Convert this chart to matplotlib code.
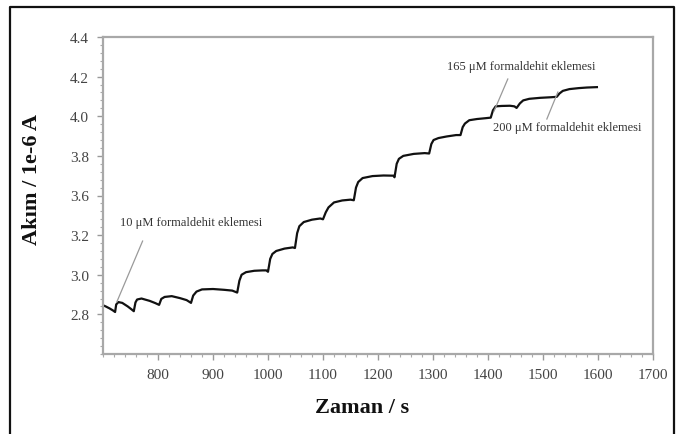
import numpy as np
import matplotlib
matplotlib.use("Agg")
import matplotlib.pyplot as plt
from matplotlib.ticker import MultipleLocator, FixedLocator

plt.rcParams.update({"font.family": "Liberation Serif"})

# Chronoamperometric trace (time in s, current in 1e-6 A)
time_s = [700, 705, 712, 718, 722,
          724, 728, 735, 745, 752, 756,
          759, 762, 770, 785, 795, 802,
          806, 812, 825, 840, 852, 860,
          864, 870, 880, 900, 920, 935, 944,
          948, 952, 960, 975, 990, 997, 1000,
          1004, 1008, 1015, 1030, 1045, 1049,
          1053, 1057, 1065, 1080, 1095, 1100,
          1105, 1110, 1120, 1135, 1150, 1156,
          1160, 1164, 1172, 1190, 1210, 1228, 1230,
          1234, 1238, 1246, 1265, 1285, 1293,
          1297, 1301, 1310, 1325, 1342, 1350,
          1354, 1358, 1366, 1380, 1395, 1405,
          1409, 1414, 1425, 1440, 1448, 1452,
          1458, 1464, 1475, 1495, 1515, 1525,
          1530, 1536, 1548, 1565, 1580, 1598]
current = [3.046, 3.040, 3.030, 3.020, 3.012,
           3.050, 3.062, 3.058, 3.040, 3.025, 3.016,
           3.060, 3.075, 3.080, 3.068, 3.057, 3.048,
           3.078, 3.088, 3.092, 3.082, 3.072, 3.058,
           3.095, 3.115, 3.126, 3.128, 3.124, 3.120, 3.110,
           3.170, 3.200, 3.213, 3.220, 3.222, 3.222, 3.215,
           3.280, 3.305, 3.320, 3.332, 3.338, 3.335,
           3.410, 3.445, 3.466, 3.478, 3.484, 3.480,
           3.515, 3.540, 3.565, 3.575, 3.579, 3.576,
           3.640, 3.668, 3.688, 3.698, 3.701, 3.700, 3.692,
           3.760, 3.785, 3.800, 3.810, 3.814, 3.812,
           3.860, 3.880, 3.890, 3.898, 3.905, 3.905,
           3.945, 3.963, 3.980, 3.986, 3.990, 3.993,
           4.030, 4.050, 4.052, 4.053, 4.050, 4.042,
           4.065, 4.080, 4.088, 4.093, 4.096, 4.098,
           4.115, 4.128, 4.137, 4.142, 4.145, 4.147]

# tick labels exactly as printed on the original (3.4 is missing there)
ytick_pos = [3.0, 3.2, 3.4, 3.6, 3.8, 4.0, 4.2, 4.4]
ytick_lab = ["2.8", "3.0", "3.2", "3.6", "3.8", "4.0", "4.2", "4.4"]
xtick_pos = [800, 900, 1000, 1100, 1200, 1300, 1400, 1500, 1600, 1700]

# annotations: text, text anchor (t, v), arrow tail and head
notes = [("10 \u03bcM formaldehit eklemesi", (731, 3.467), (772, 3.370), (725, 3.062)),
         ("165 \u03bcM formaldehit eklemesi", (1325, 4.255), (1436, 4.188), (1411, 4.026)),
         ("200 \u03bcM formaldehit eklemesi", (1409, 3.947), (1507, 3.986), (1527, 4.122))]

fig = plt.figure(figsize=(6.82, 4.35), dpi=100)
ax = fig.add_axes([103/682, 1 - 355/435, 550/682, 317/435])

ax.plot(time_s, current, color="#111", linewidth=1.6)

for txt, (tx, ty), (x0, y0), (x1, y1) in notes:
    ax.plot([x0, x1], [y0, y1], color="#9a9a9a", linewidth=0.9)
    ax.text(tx, ty, txt, ha="left", va="center", fontsize=9, color="#333")

ax.set_xlim(700, 1700)
ax.set_ylim(2.8, 4.4)
ax.xaxis.set_major_locator(FixedLocator(xtick_pos))
ax.xaxis.set_minor_locator(MultipleLocator(20))
ax.yaxis.set_major_locator(FixedLocator(ytick_pos))
ax.set_yticklabels(ytick_lab)
ax.yaxis.set_minor_locator(MultipleLocator(0.04))

for sp in ax.spines.values():
    sp.set_color("#a8a8a8")
    sp.set_linewidth(1.6)
ax.tick_params(which="major", direction="out", length=4, width=1.0,
               color="#999", labelsize=11, labelcolor="#444", pad=6)
ax.tick_params(which="minor", direction="out", length=2.5, width=0.8, color="#aaa")

fig.text(362/682, 1 - 408/435, "Zaman / s", ha="center", va="center",
         fontsize=16, weight="bold", color="#111")
fig.text(32/682, 1 - 180/435, "Ak\u0131m / 1e-6 A", ha="center", va="center",
         rotation=90, fontsize=16, weight="bold", color="#111")

# outer frame around the figure (bottom edge cut off in the original)
frame_x = [10/682, 10/682, 674/682, 674/682]
frame_y = [0, 1 - 8/435, 1 - 8/435, 0]
fig.add_artist(plt.Line2D(frame_x, frame_y, transform=fig.transFigure,
                          color="#111", linewidth=1.6))

fig.savefig("out.png", dpi=100)
